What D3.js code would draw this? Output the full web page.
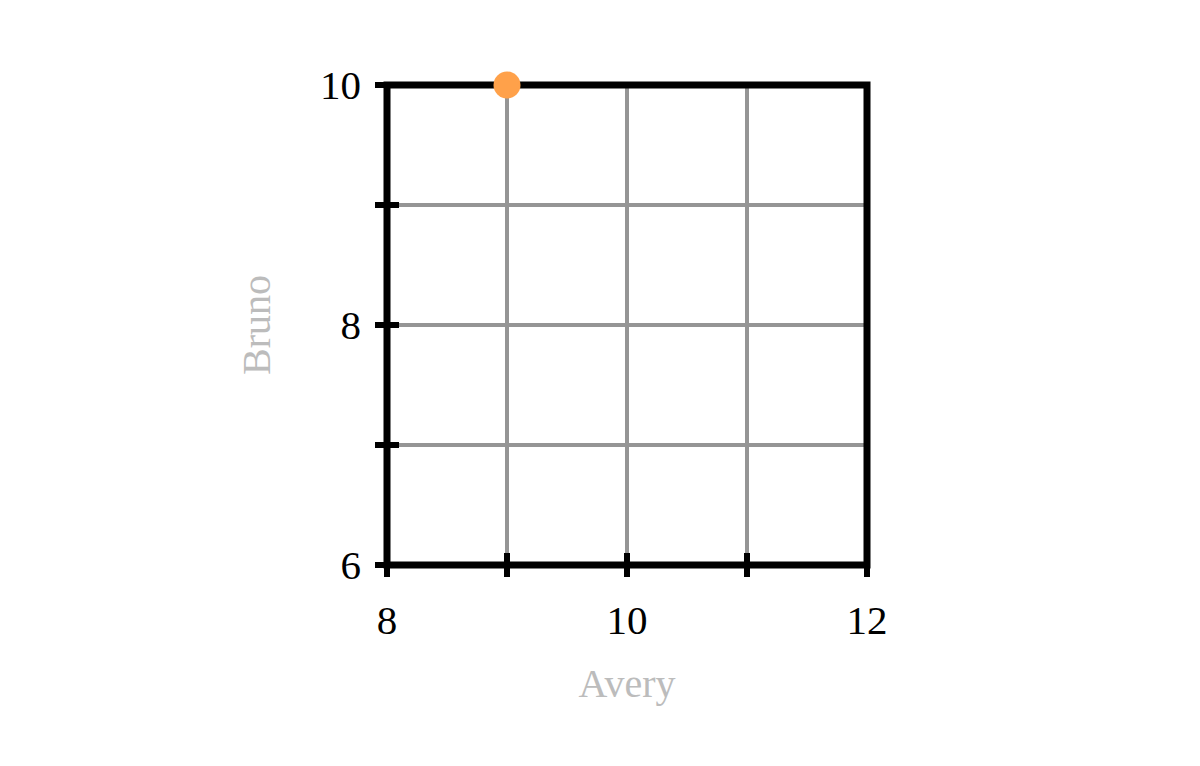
<!DOCTYPE html>
<html>
<head>
<meta charset="utf-8">
<script src="https://cdn.jsdelivr.net/npm/d3@7"></script>
<style>
  html, body { margin: 0; padding: 0; background: #fff; }
  svg { display: block; }
  text { font-family: "Liberation Serif", "DejaVu Serif", serif; }
</style>
</head>
<body>
<svg id="chart" width="1200" height="766"></svg>
<script>
// Data
const xValues = [9];
const yValues = [10];
const xTicks = [8, 9, 10, 11, 12];
const yTicks = [6, 7, 8, 9, 10];
const xTickLabels = [8, 10, 12];
const yTickLabels = [6, 8, 10];
const xTitle = "Avery";
const yTitle = "Bruno";
const xDomain = [8, 12];
const yDomain = [6, 10];

(function () {
const svg = d3.select("#chart");
const pL = 387, pR = 867, pT = 85, pB = 565;

const x = d3.scaleLinear().domain(xDomain).range([pL, pR]);
const y = d3.scaleLinear().domain(yDomain).range([pB, pT]);

// grid
const grid = svg.append("g").attr("stroke", "#959595").attr("stroke-width", 4);
grid.selectAll("line.gx").data(xTicks.filter(d => d > xDomain[0] && d < xDomain[1])).join("line")
  .attr("class", "gx")
  .attr("x1", d => x(d)).attr("x2", d => x(d)).attr("y1", pT).attr("y2", pB);
grid.selectAll("line.gy").data(yTicks.filter(d => d > yDomain[0] && d < yDomain[1])).join("line")
  .attr("class", "gy")
  .attr("y1", d => y(d)).attr("y2", d => y(d)).attr("x1", pL).attr("x2", pR);

// frame
svg.append("rect").attr("x", pL).attr("y", pT).attr("width", pR - pL).attr("height", pB - pT)
  .attr("fill", "none").attr("stroke", "#000").attr("stroke-width", 7);

// ticks
const ticks = svg.append("g").attr("stroke", "#000").attr("stroke-width", 6);
ticks.selectAll("line.tx").data(xTicks).join("line")
  .attr("class", "tx")
  .attr("x1", d => x(d)).attr("x2", d => x(d)).attr("y1", pB - 12).attr("y2", pB + 12);
ticks.selectAll("line.ty").data(yTicks).join("line")
  .attr("class", "ty")
  .attr("y1", d => y(d)).attr("y2", d => y(d)).attr("x1", pL - 12).attr("x2", pL + 12);

// tick labels
svg.append("g").selectAll("text").data(xTickLabels).join("text")
  .attr("x", d => x(d)).attr("y", 634).attr("text-anchor", "middle")
  .attr("font-size", 41).attr("fill", "#000").text(d => d);
svg.append("g").selectAll("text").data(yTickLabels).join("text")
  .attr("x", 361).attr("y", d => y(d) + 14).attr("text-anchor", "end")
  .attr("font-size", 41).attr("fill", "#000").text(d => d);

// titles
svg.append("text").attr("x", (pL + pR) / 2).attr("y", 697).attr("text-anchor", "middle")
  .attr("font-size", 40).attr("fill", "#bcbcbc").text(xTitle);
svg.append("text").attr("transform", `translate(270,${(pT + pB) / 2}) rotate(-90)`)
  .attr("text-anchor", "middle").attr("font-size", 40).attr("fill", "#bcbcbc").text(yTitle);

// points
svg.append("g").selectAll("circle").data(xValues.map((v, i) => [v, yValues[i]])).join("circle")
  .attr("cx", d => x(d[0])).attr("cy", d => y(d[1])).attr("r", 13.5).attr("fill", "#FFA14A");
})();
</script>
</body>
</html>
